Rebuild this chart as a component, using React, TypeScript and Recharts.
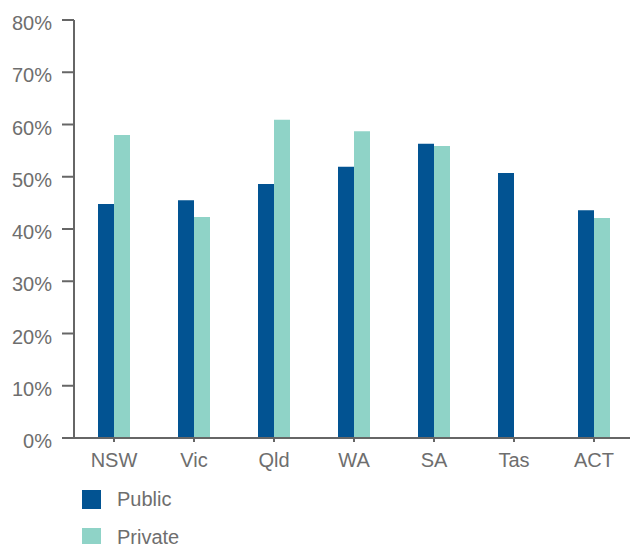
import { BarChart, Bar, XAxis, YAxis } from "recharts";

// States / territories along the x axis
const STATES = ["NSW", "Vic", "Qld", "WA", "SA", "Tas", "ACT"];

// Share (%) by sector. Tas has no private value.
const PUBLIC = [44.8, 45.5, 48.6, 51.9, 56.3, 50.7, 43.6];
const PRIVATE = [58.0, 42.3, 60.9, 58.7, 55.9, null, 42.1];

const Y_TICKS = [0, 10, 20, 30, 40, 50, 60, 70, 80];

const SERIES = [
  { key: "public", name: "Public", color: "#025392" },
  { key: "private", name: "Private", color: "#8fd3c7" },
];

const FONT = "'Liberation Sans', Arial, Helvetica, sans-serif";
const TEXT = "#6e6e6e";
const AXIS = "#666666";

const data = STATES.map((state, i) => ({
  state,
  public: PUBLIC[i],
  private: PRIVATE[i],
}));

export default function App() {
  return (
    <div
      style={{
        position: "fixed",
        left: 0,
        top: 0,
        width: 630,
        height: 544,
        overflow: "hidden",
        background: "#fff",
        fontFamily: FONT,
      }}
    >
      <BarChart
        width={640}
        height={544}
        data={data}
        barSize={16}
        barGap={0}
        margin={{ top: 20, right: 6, bottom: 76, left: 0 }}
      >
        <XAxis
          dataKey="state"
          height={30}
          axisLine={{ stroke: AXIS, strokeWidth: 2 }}
          tickLine={{ stroke: AXIS, strokeWidth: 2 }}
          tickSize={4}
          tickMargin={11}
          tick={{ fill: TEXT, fontSize: 20, fontFamily: FONT }}
        />
        <YAxis
          width={74}
          domain={[0, 80]}
          ticks={Y_TICKS}
          interval={0}
          tickFormatter={(v: number) => `${v}%`}
          axisLine={{ stroke: AXIS, strokeWidth: 2 }}
          tickLine={{ stroke: AXIS, strokeWidth: 2 }}
          tickSize={12}
          tickMargin={10}
          tick={{ fill: TEXT, fontSize: 20, fontFamily: FONT, dy: 3 }}
        />
        {SERIES.map((s) => (
          <Bar
            key={s.key}
            dataKey={s.key}
            name={s.name}
            fill={s.color}
            isAnimationActive={false}
          />
        ))}
      </BarChart>

      {/* legend sits under the axis, stacked vertically */}
      <div style={{ position: "absolute", left: 82, top: 490 }}>
        {SERIES.map((s) => (
          <div
            key={s.key}
            style={{ display: "flex", alignItems: "center", height: 19, marginBottom: 19 }}
          >
            <span style={{ width: 19, height: 19, background: s.color, display: "inline-block" }} />
            <span style={{ marginLeft: 16, fontSize: 20, color: TEXT, lineHeight: "19px" }}>
              {s.name}
            </span>
          </div>
        ))}
      </div>
    </div>
  );
}
